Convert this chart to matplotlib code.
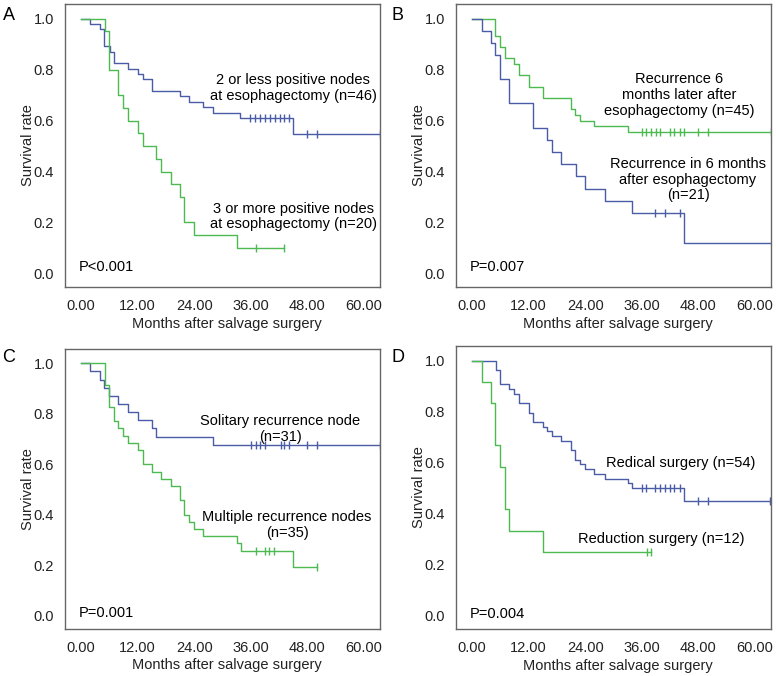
import matplotlib
matplotlib.use("Agg")
import matplotlib.pyplot as plt
import numpy as np

plt.rcParams['font.family'] = ['Liberation Sans', 'DejaVu Sans']

BLUE = '#4a5ca6'
GREEN = '#4cba50'

# Panel A
a_blue_t = [0, 1.9, 4.0, 4.9, 6.1, 7.0, 9.9, 12.0, 13.1, 15.0, 21.0, 22.9, 25.9, 28.0, 33.7, 45.0]
a_blue_s = [1.0, .978, .957, .891, .870, .826, .804, .783, .761, .717, .696, .674, .652, .630, .609, .548]
a_blue_c = [35.8, 36.9, 37.9, 39.0, 40.1, 41.1, 42.2, 43.0, 44.0, 48.0, 50.1, 63.3]
a_green_t = [0, 5.1, 6.0, 7.9, 9.0, 9.9, 12.0, 13.1, 16.0, 17.0, 19.0, 21.0, 21.9, 24.0, 33.0]
a_green_s = [1.0, .95, .80, .70, .65, .60, .55, .50, .45, .40, .35, .30, .20, .15, .10]
a_green_c = [37.0, 43.0]

# Panel B
b_green_t = [0, 4.95, 6.0, 6.9, 9.0, 10.0, 12.0, 15.0, 21.0, 21.9, 22.9, 25.9, 33.0]
b_green_s = [1.0, .933, .889, .844, .822, .778, .733, .689, .644, .622, .600, .578, .556]
b_green_c = [36.0, 36.9, 37.9, 39.0, 39.9, 42.0, 42.9, 44.0, 45.0, 48.0, 50.1, 63.3]
b_blue_t = [0, 2.05, 4.0, 4.95, 6.0, 7.9, 13.0, 15.9, 16.9, 18.9, 22.0, 24.0, 28.1, 33.9, 45.0]
b_blue_s = [1.0, .952, .905, .857, .762, .667, .571, .524, .476, .429, .381, .333, .286, .238, .119]
b_blue_c = [38.9, 41.0, 44.0]
b_blue_end = 64.0

# Panel C
c_blue_t = [0, 1.9, 4.0, 4.9, 6.0, 7.9, 10.0, 12.0, 15.0, 16.0, 28.0]
c_blue_s = [1.0, .968, .935, .903, .871, .839, .806, .774, .742, .710, .677]
c_blue_c = [36.0, 37.0, 37.9, 39.0, 42.3, 43.0, 44.0, 48.0, 50.1, 63.3]
c_green_t = [0, 5.1, 5.9, 6.9, 7.9, 9.0, 9.9, 12.0, 13.1, 15.0, 17.0, 19.0, 21.0, 21.9, 23.0,
             24.0, 25.9, 33.0, 33.9, 45.0]
c_green_s = [1.0, .914, .829, .771, .743, .714, .686, .657, .600, .571, .543, .514, .457, .400, .371,
             .343, .314, .286, .257, .193]
c_green_c = [37.0, 39.0, 39.9, 40.9, 50.1]

# Panel D
d_blue_t = [0, 5.0, 6.0, 7.9, 9.0, 10.0, 12.0, 13.0, 15.0, 15.9, 16.9, 18.9, 21.0, 21.9, 22.9,
            24.0, 25.9, 28.1, 33.0, 33.9, 45.0]
d_blue_s = [1.0, .963, .907, .889, .870, .833, .796, .759, .741, .722, .704, .685, .648, .611, .593,
            .574, .556, .537, .519, .500, .450]
d_blue_c = [36.0, 36.9, 38.9, 39.9, 41.0, 42.0, 42.9, 44.0, 48.0, 50.1, 63.2]
d_green_t = [0, 2.05, 4.0, 4.95, 6.0, 7.0, 7.9, 15.0]
d_green_s = [1.0, .917, .833, .667, .583, .417, .333, .25]
d_green_c = [37.0, 38.0]

xticks = [0, 12, 24, 36, 48, 60]
xticklabels = ['0.00', '12.00', '24.00', '36.00', '48.00', '60.00']
yticks = [0.0, 0.2, 0.4, 0.6, 0.8, 1.0]
yticklabels = ['0.0', '0.2', '0.4', '0.6', '0.8', '1.0']


def km(ax, t, s, cens, color, end=None):
    last = max(cens) if cens else t[-1]
    if end is not None:
        last = max(last, end)
    ax.step(t + [last], s + [s[-1]], where='post', color=color, lw=1.0, clip_on=True)
    if cens:
        idx = np.searchsorted(t, cens, side='right') - 1
        ys = [s[i] for i in idx]
        ax.plot(cens, ys, ls='none', marker='|', ms=6, mew=1.0, color=color)


def setup(ax):
    ax.set_xlim(-3.4, 63.4)
    ax.set_ylim(-0.053, 1.057)
    ax.set_xticks(xticks)
    ax.set_xticklabels(xticklabels)
    ax.set_yticks(yticks)
    ax.set_yticklabels(yticklabels)
    ax.tick_params(length=0, labelsize=10.5, colors='#222222')
    ax.tick_params(axis='y', pad=8)
    ax.tick_params(axis='x', pad=9)
    for sp in ax.spines.values():
        sp.set_color('#666666')
        sp.set_linewidth(1.0)
    ax.set_xlabel('Months after salvage surgery', fontsize=10.5, color='#222222')
    ax.set_ylabel('Survival rate', fontsize=10.5, color='#222222')
    ax.xaxis.set_label_coords(0.515, -0.105)
    ax.yaxis.set_label_coords(-0.095, 0.5)


W, H = 776, 676
fig = plt.figure(figsize=(W / 100, H / 100), dpi=100)


def add_axes(left, top, right, bottom):
    return fig.add_axes([left / W, 1 - bottom / H, (right - left) / W, (bottom - top) / H])


axA = add_axes(65, 4, 380, 287)
axB = add_axes(456, 4, 771, 287)
axC = add_axes(65, 349, 380, 629)
axD = add_axes(456, 346, 771, 629)

# A
setup(axA)
km(axA, a_blue_t, a_blue_s, a_blue_c, BLUE)
km(axA, a_green_t, a_green_s, a_green_c, GREEN)
axA.text(45, 0.727, '2 or less positive nodes\nat esophagectomy (n=46)', ha='center', va='center',
         fontsize=10.5, linespacing=1.15)
axA.text(45, 0.224, '3 or more positive nodes\nat esophagectomy (n=20)', ha='center', va='center',
         fontsize=10.5, linespacing=1.15)
axA.text(-0.4, 0.025, 'P<0.001', ha='left', va='center', fontsize=10.5)

# B
setup(axB)
km(axB, b_green_t, b_green_s, b_green_c, GREEN)
km(axB, b_blue_t, b_blue_s, b_blue_c, BLUE, end=b_blue_end)
axB.text(43.9, 0.70, 'Recurrence 6\nmonths later after\nesophagectomy (n=45)', ha='center', va='center',
         fontsize=10.5, linespacing=1.15)
axB.text(45.8, 0.368, 'Recurrence in 6 months\nafter esophagectomy\n(n=21)', ha='center', va='center',
         fontsize=10.5, linespacing=1.15)
axB.text(-0.4, 0.025, 'P=0.007', ha='left', va='center', fontsize=10.5)

# C
setup(axC)
km(axC, c_blue_t, c_blue_s, c_blue_c, BLUE)
km(axC, c_green_t, c_green_s, c_green_c, GREEN)
axC.text(42.2, 0.741, 'Solitary recurrence node\n(n=31)', ha='center', va='center',
         fontsize=10.5, linespacing=1.15)
axC.text(43.7, 0.36, 'Multiple recurrence nodes\n(n=35)', ha='center', va='center',
         fontsize=10.5, linespacing=1.15)
axC.text(-0.4, 0.01, 'P=0.001', ha='left', va='center', fontsize=10.5)

# D
setup(axD)
km(axD, d_blue_t, d_blue_s, d_blue_c, BLUE)
km(axD, d_green_t, d_green_s, d_green_c, GREEN)
axD.text(44.3, 0.60, 'Redical surgery (n=54)', ha='center', va='center', fontsize=10.5)
axD.text(40.1, 0.299, 'Reduction surgery (n=12)', ha='center', va='center', fontsize=10.5)
axD.text(-0.4, 0.005, 'P=0.004', ha='left', va='center', fontsize=10.5)

for lab, x, y in [('A', 9, 15), ('B', 398, 15), ('C', 9, 358), ('D', 398, 358)]:
    fig.text(x / W, 1 - y / H, lab, ha='center', va='center', fontsize=13)

fig.savefig('out.png', dpi=100)
